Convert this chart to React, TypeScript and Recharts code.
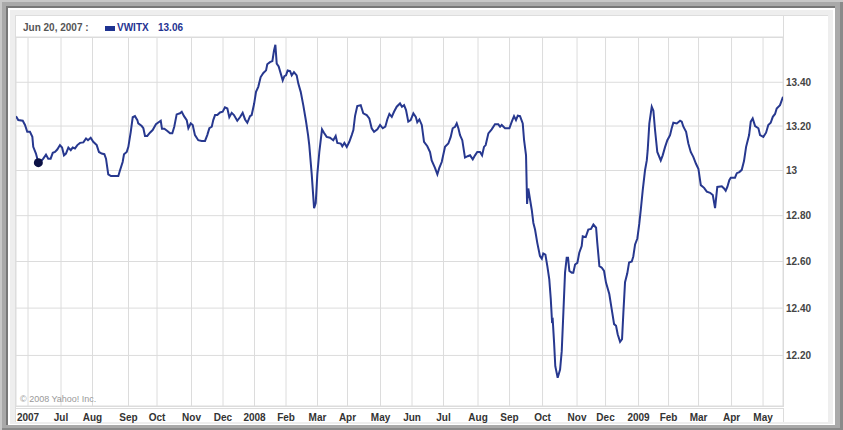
import React from 'react';
import { LineChart, Line, XAxis, YAxis, CartesianGrid, ReferenceDot } from 'recharts';

// trading-day index since Jun 20, 2007
const days = [
  0, 1.5, 4.5, 6, 7.5, 9.3, 10.9, 11.5, 13.3, 14.9,
  17.1, 18.2, 20, 21.5, 23.1, 24.5, 26, 27.5, 29.3, 30.7,
  32, 33.3, 34.9, 36.5, 37.8, 39.3, 40.9, 42.7, 44.9, 46.7,
  48, 49.8, 51.5, 53.8, 55.3, 57.1, 58.9, 60, 61.5, 63.3,
  66, 68.2, 69.3, 71.1, 72, 73.8, 74.9, 76.5, 77.8, 79.3,
  80.9, 81.5, 83.8, 84.9, 86, 87.5, 89.3, 91.1, 93.3, 96.5,
  97.3, 98.9, 100.9, 102.7, 104.2, 105.5, 107.1, 109.3, 110.5, 112,
  113.8, 114.9, 116.5, 117.8, 119.3, 121.5, 123.8, 126, 127.5, 128.9,
  130.5, 131.5, 132.7, 134.2, 136, 137.8, 139.3, 140.9, 142.2, 143.8,
  145.3, 147.5, 149.3, 151.1, 152.7, 154.2, 156, 157.1, 158.7, 160,
  161.5, 163.1, 164.9, 166.7, 167.5, 169.3, 170.9, 172, 172.9, 173.8,
  175.1, 176.5, 177.8, 178.9, 180, 181.1, 182.7, 183.8, 185.3, 187.1,
  188.2, 189.8, 191.5, 193.3, 194.7, 195.5, 197.1, 198.7, 199.8, 200.9,
  202.2, 204, 205.3, 207.1, 209.3, 211.5, 213.1, 214.2, 216.5, 217.5,
  218.9, 220.5, 222.2, 223.8, 224.9, 226, 227.5, 229.8, 231.5, 233.8,
  235.5, 237.1, 238.7, 240.9, 242.7, 244.5, 246.2, 247.5, 248.9, 250.5,
  252, 253.8, 256, 257.3, 258.7, 260, 261.5, 263.1, 264.9, 266.5,
  267.5, 268.9, 270.5, 272, 274.2, 276, 277.1, 279.3, 280.9, 282.2,
  283.8, 286, 288.2, 289.8, 291.1, 292.7, 293.8, 294.9, 296, 297.5,
  299.3, 301.1, 302.7, 304.5, 306, 307.5, 309.3, 310.7, 312, 313.1,
  314.9, 317.1, 319.3, 321.5, 322.7, 323.8, 326, 328.9, 330.5, 332,
  333.3, 334.5, 336, 337.8, 338.7, 340, 340.7, 341.5, 342.7, 343.8,
  344.9, 346, 347.5, 349.3, 350.5, 351.5, 352.9, 354.2, 355.5, 356.5,
  357.3, 357.8, 358.7, 359.5, 361.1, 362.7, 363.8, 364.9, 366, 367.1,
  368, 368.9, 370.5, 371.5, 372.7, 374.2, 375.5, 377.1, 377.8, 379.8,
  381.5, 383.3, 384.9, 386.7, 387.5, 388.9, 390.5, 392, 393.3, 395.5,
  397.1, 398.7, 400, 401.1, 402.7, 404, 404.9, 406, 407.5, 408.7,
  410.5, 411.5, 412.7, 414.2, 415.5, 416.5, 417.8, 419.3, 420.5, 421.1,
  422.2, 423.8, 424.9, 426, 427.5, 429.8, 431.1, 432.7, 434.2, 436,
  437.1, 438.2, 440.5, 442.7, 443.8, 444.9, 446.7, 448.2, 449.8, 451.5,
  453.3, 454.9, 456.5, 458.7, 460.5, 462.7, 464.5, 466, 467.5, 470.5,
  472, 473.1, 474.2, 475.5, 476.5, 479.3, 480.5, 482.2, 483.8, 485.3,
  486.7, 488.7, 489.8, 491.1, 492.7, 494.9, 496, 498.2, 500, 501.5,
  503.1, 504.5, 506, 507.1, 509.3, 511.3,
];

const prices = [
  13.245, 13.227, 13.224, 13.205, 13.174, 13.174, 13.151, 13.106, 13.076, 13.035,
  13.045, 13.053, 13.071, 13.053, 13.053, 13.079, 13.083, 13.094, 13.114, 13.103,
  13.068, 13.076, 13.103, 13.091, 13.103, 13.099, 13.114, 13.124, 13.126, 13.144,
  13.136, 13.147, 13.129, 13.114, 13.083, 13.076, 13.073, 13.053, 12.983, 12.975,
  12.975, 12.975, 13.0, 13.038, 13.073, 13.083, 13.106, 13.174, 13.24, 13.245,
  13.227, 13.212, 13.2, 13.19, 13.155, 13.155, 13.17, 13.182, 13.208, 13.224,
  13.188, 13.188, 13.178, 13.167, 13.167, 13.197, 13.253, 13.258, 13.265, 13.245,
  13.227, 13.19, 13.212, 13.205, 13.159, 13.136, 13.133, 13.133, 13.159, 13.19,
  13.197, 13.227, 13.25, 13.25, 13.262, 13.265, 13.285, 13.28, 13.24, 13.26,
  13.25, 13.224, 13.24, 13.26, 13.23, 13.215, 13.245, 13.25, 13.3, 13.356,
  13.379, 13.424, 13.443, 13.455, 13.483, 13.493, 13.498, 13.547, 13.574, 13.486,
  13.473, 13.44, 13.409, 13.428, 13.432, 13.455, 13.452, 13.432, 13.447, 13.432,
  13.394, 13.356, 13.295, 13.223, 13.159, 13.114, 12.986, 12.833, 12.855, 12.986,
  13.083, 13.185, 13.17, 13.151, 13.147, 13.136, 13.155, 13.124, 13.121, 13.109,
  13.124, 13.106, 13.129, 13.159, 13.182, 13.245, 13.291, 13.295, 13.258, 13.25,
  13.235, 13.19, 13.174, 13.185, 13.205, 13.19, 13.197, 13.23, 13.255, 13.242,
  13.265, 13.288, 13.303, 13.288, 13.295, 13.273, 13.22, 13.227, 13.258, 13.242,
  13.217, 13.23, 13.205, 13.129, 13.109, 13.083, 13.045, 13.012, 12.983, 13.012,
  13.038, 13.106, 13.121, 13.151, 13.19, 13.197, 13.212, 13.19, 13.159, 13.136,
  13.058, 13.064, 13.068, 13.05, 13.068, 13.083, 13.083, 13.068, 13.106, 13.114,
  13.167, 13.185, 13.208, 13.208, 13.197, 13.205, 13.19, 13.19, 13.22, 13.245,
  13.227, 13.247, 13.245, 13.212, 13.136, 13.068, 12.852, 12.92, 12.87, 12.826,
  12.768, 12.739, 12.681, 12.623, 12.612, 12.635, 12.63, 12.58, 12.523, 12.438,
  12.346, 12.35, 12.254, 12.155, 12.107, 12.141, 12.218, 12.382, 12.552, 12.616,
  12.616, 12.559, 12.552, 12.552, 12.587, 12.594, 12.638, 12.667, 12.71, 12.706,
  12.739, 12.742, 12.761, 12.747, 12.681, 12.58, 12.573, 12.559, 12.509, 12.46,
  12.396, 12.332, 12.325, 12.289, 12.257, 12.268, 12.382, 12.511, 12.549, 12.596,
  12.6, 12.622, 12.674, 12.7, 12.765, 12.826, 12.913, 13.0, 13.045, 13.091,
  13.212, 13.288, 13.27, 13.182, 13.083, 13.045, 13.068, 13.106, 13.136, 13.159,
  13.19, 13.215, 13.212, 13.224, 13.22, 13.197, 13.174, 13.121, 13.083, 13.061,
  13.03, 13.008, 12.935, 12.923, 12.906, 12.901, 12.891, 12.833, 12.927, 12.93,
  12.92, 12.91, 12.927, 12.957, 12.968, 12.968, 12.988, 12.993, 13.003, 13.042,
  13.106, 13.159, 13.22, 13.235, 13.2, 13.19, 13.159, 13.151, 13.17, 13.205,
  13.215, 13.242, 13.255, 13.28, 13.295, 13.333,
];

const monthTicks = [8, 30, 51, 75, 94, 117, 138, 159, 180, 201, 221, 243, 264, 285, 308, 329, 351, 374, 393, 415, 435, 455, 477, 498];
const monthLabels = ['2007', 'Jul', 'Aug', 'Sep', 'Oct', 'Nov', 'Dec', '2008', 'Feb', 'Mar', 'Apr', 'May', 'Jun', 'Jul', 'Aug', 'Sep', 'Oct', 'Nov', 'Dec', '2009', 'Feb', 'Mar', 'Apr', 'May'];
const priceTicks = [12.2, 12.4, 12.6, 12.8, 13, 13.2, 13.4];

const markerIndex = 9;
const legendDate = 'Jun 20, 2007 :';
const legendSymbol = 'VWITX';
const legendValue = '13.06';

const data = days.map((d, i) => ({ day: d, price: prices[i] }));

const FONT = '"Liberation Sans", Arial, sans-serif';
const LINE_COLOR = '#27388f';

const fmtX = (v: number) => {
  const i = monthTicks.indexOf(v);
  return i >= 0 ? monthLabels[i] : '';
};
const fmtY = (v: number) => (Math.abs(v - 13) < 1e-9 ? '13' : v.toFixed(2));

export default function App() {
  return (
    <div style={{ position: 'absolute', left: 0, top: 0, width: 843, height: 430, overflow: 'hidden' }}>
      <svg width={843} height={430} style={{ position: 'absolute', left: 0, top: 0 }}>
        <rect x={0} y={0} width={843} height={430} fill="#c8c8c8" />
        <rect x={2} y={2} width={841} height={428} fill="#a9a9a9" />
        <rect x={840} y={2} width={3} height={428} fill="#8a8a8a" />
        <rect x={2} y={428} width={841} height={2} fill="#8a8a8a" />
        <rect x={6} y={6} width={829} height={419} fill="#787878" />
        <rect x={8} y={8} width={827} height={417} fill="#ffffff" />
        <rect x={10} y={10} width={823} height={414} fill="#eeeeee" />
        <rect x={15} y={15} width={813} height={407} fill="#dddddd" />
        <rect x={16} y={16} width={812} height={406} fill="#ffffff" />
        <rect x={16} y={37} width={767} height={1} fill="#dcdcdc" />
        <rect x={783} y={16} width={1} height={391} fill="#dcdcdc" />
        <rect x={16} y={406} width={767} height={1} fill="#dcdcdc" />
        <rect x={16} y={408} width={767} height={1} fill="#dcdcdc" />
        <rect x={783} y={408} width={1} height={14} fill="#dcdcdc" />
      </svg>
      <div style={{ position: 'absolute', left: 0, top: 0 }}>
        <LineChart width={843} height={430} data={data} margin={{ top: 37, right: 15, bottom: 8, left: 16 }}>
          <CartesianGrid stroke="#dcdcdc" />
          <XAxis
            dataKey="day"
            type="number"
            domain={[0, 511.3]}
            allowDataOverflow
            ticks={monthTicks}
            interval={0}
            tickFormatter={fmtX}
            height={16}
            tickLine={false}
            axisLine={false}
            tickSize={6}
            tickMargin={2}
            tick={{ fontSize: 10, fontWeight: 700, fill: '#333', fontFamily: FONT }}
          />
          <YAxis
            orientation="right"
            scale="log"
            domain={[11.99, 13.61]}
            allowDataOverflow
            ticks={priceTicks}
            interval={0}
            tickFormatter={fmtY}
            width={45}
            tickLine={false}
            axisLine={false}
            tickSize={0}
            tickMargin={3}
            tick={{ fontSize: 10, fontWeight: 700, fill: '#444', fontFamily: FONT, textAnchor: 'start' }}
          />
          <Line
            type="linear"
            dataKey="price"
            stroke={LINE_COLOR}
            strokeWidth={2}
            dot={false}
            activeDot={false}
            isAnimationActive={false}
          />
          <ReferenceDot x={days[markerIndex]} y={prices[markerIndex]} r={4.5} fill="#0b1145" stroke="none" />
        </LineChart>
      </div>
      <svg width={843} height={430} style={{ position: 'absolute', left: 0, top: 0, pointerEvents: 'none' }}>
        <text x={23} y={31} fontSize={10} fontWeight={700} fill="#555" fontFamily={FONT}>{legendDate}</text>
        <rect x={105} y={26} width={10} height={5} fill="#1f3391" />
        <text x={117} y={31} fontSize={10} fontWeight={700} fill="#1f3391" fontFamily={FONT}>{legendSymbol}</text>
        <text x={158} y={31} fontSize={10} fontWeight={700} fill="#1f3391" fontFamily={FONT}>{legendValue}</text>
        <text x={20} y={402} fontSize={9} fill="#999" fontFamily={FONT}>© 2008 Yahoo! Inc.</text>
      </svg>
    </div>
  );
}
